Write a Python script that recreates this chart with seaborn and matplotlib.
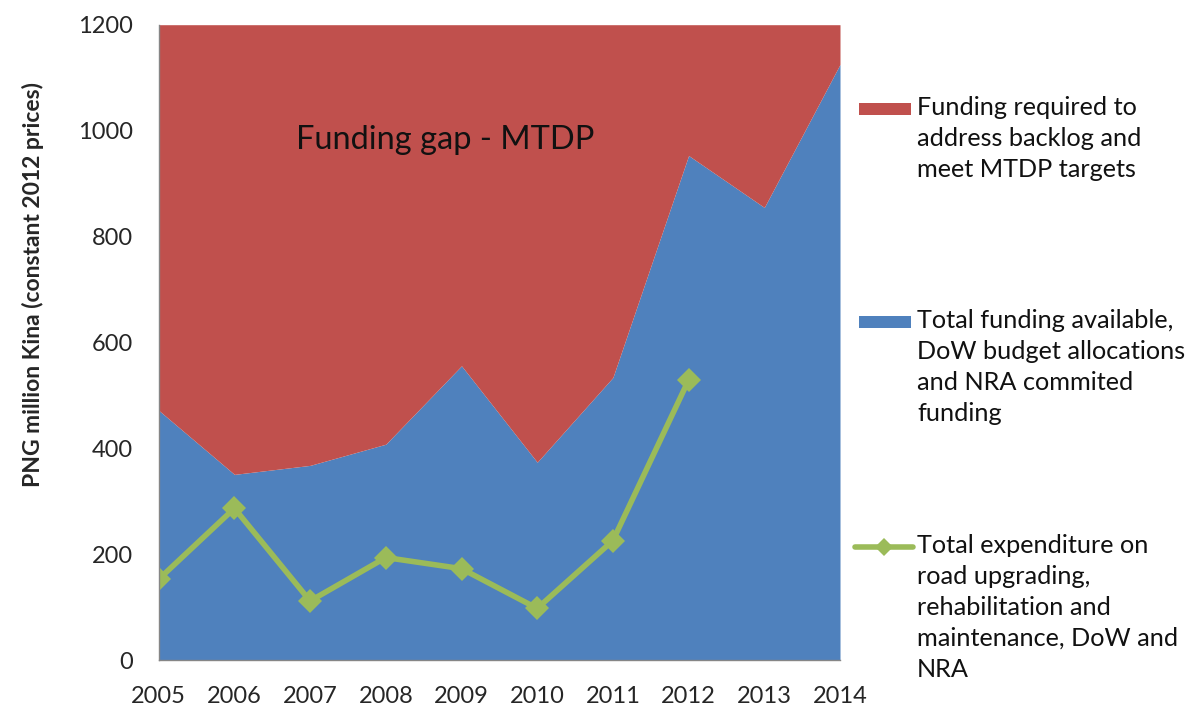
import matplotlib
matplotlib.use("Agg")
import matplotlib.pyplot as plt
from matplotlib.patches import Rectangle
from matplotlib.lines import Line2D
import seaborn as sns
import pandas as pd

# ── Data ─────────────────────────────────────────────────────────────────────
YEARS = [2005, 2006, 2007, 2008, 2009, 2010, 2011, 2012, 2013, 2014]
FUNDING_AVAILABLE = [472, 351, 368, 408, 556, 374, 534, 953, 855, 1125]
FUNDING_REQUIRED = [1200, 1200, 1200, 1200, 1200, 1200, 1200, 1200, 1200, 1200]
EXP_YEARS = [2005, 2006, 2007, 2008, 2009, 2010, 2011, 2012]
EXPENDITURE = [153, 287, 112, 194, 173, 98, 226, 529]

LABELS = [
    "Funding required to\naddress backlog and\nmeet MTDP targets",
    "Total funding available,\nDoW budget allocations\nand NRA commited\nfunding",
    "Total expenditure on\nroad upgrading,\nrehabilitation and\nmaintenance, DoW and\nNRA",
]
RED, BLUE, GREEN = "#C0504D", "#4F81BD", "#9BBB59"
AXIS_GREY = "#868686"

sns.set_style("white")
plt.rcParams["font.family"] = ["Lato", "DejaVu Sans"]

W, H = 1187, 706
fig = plt.figure(figsize=(W / 100, H / 100), dpi=100)
# plot area: x 158.7..840 px, y 24.7..660.3 px
ax = fig.add_axes([158.7 / W, 1 - 660.3 / H, (840 - 158.7) / W, (660.3 - 24.7) / H])

ax.fill_between(YEARS, 0, FUNDING_AVAILABLE, color=BLUE, linewidth=0)
ax.fill_between(YEARS, FUNDING_AVAILABLE, FUNDING_REQUIRED, color=RED, linewidth=0)

exp_df = pd.DataFrame({"Year": EXP_YEARS, "Expenditure": EXPENDITURE})
sns.lineplot(data=exp_df, x="Year", y="Expenditure", ax=ax, color=GREEN,
             linewidth=4, marker="D", markersize=12, markeredgewidth=0)

ax.set_xlim(2005, 2014)
ax.set_ylim(0, 1200)
ax.set_xticks(YEARS)
ax.set_yticks(range(0, 1201, 200))
ax.tick_params(axis="both", labelsize=17, length=6.5, direction="out",
               color=AXIS_GREY, width=1)
ax.tick_params(axis="x", pad=12)
ax.tick_params(axis="y", pad=12)
ax.set_xlabel("")
ax.set_ylabel("PNG million Kina (constant 2012 prices)", fontsize=16.5,
              fontweight="bold")
ax.yaxis.label.set_verticalalignment("center")
ax.yaxis.set_label_coords((33 - 158.7) / 681.3, (660.3 - 284) / 635.6)
for side in ["top", "right"]:
    ax.spines[side].set_visible(False)
for side in ["left", "bottom"]:
    ax.spines[side].set_color(AXIS_GREY)
    ax.spines[side].set_linewidth(1)
    ax.spines[side].set_zorder(5)

ax.text(2008.78, 965, "Funding gap - MTDP", fontsize=23.5,
        ha="center", va="baseline", color="#111111")

# ── Legend drawn at right, entries spaced like the reference ─────────────────
handle_y = [109, 322, 547]
for i, (lab, y) in enumerate(zip(LABELS, handle_y)):
    yf = 1 - y / H
    if i < 2:
        fig.patches.append(Rectangle((859 / W, yf - 6 / H), 52 / W, 12 / H,
                                     transform=fig.transFigure,
                                     color=[RED, BLUE][i], linewidth=0))
    else:
        fig.lines.append(Line2D([855 / W, 913 / W], [yf, yf], transform=fig.transFigure,
                                color=GREEN, linewidth=4))
        fig.lines.append(Line2D([884 / W], [yf], transform=fig.transFigure,
                                color=GREEN, marker="D", markersize=9,
                                markeredgewidth=0))
    fig.text(917 / W, 1 - (y - 13) / H, lab, fontsize=18.2, va="top",
             ha="left", linespacing=1.42, color="#111111")

fig.savefig("out.png", dpi=100)
